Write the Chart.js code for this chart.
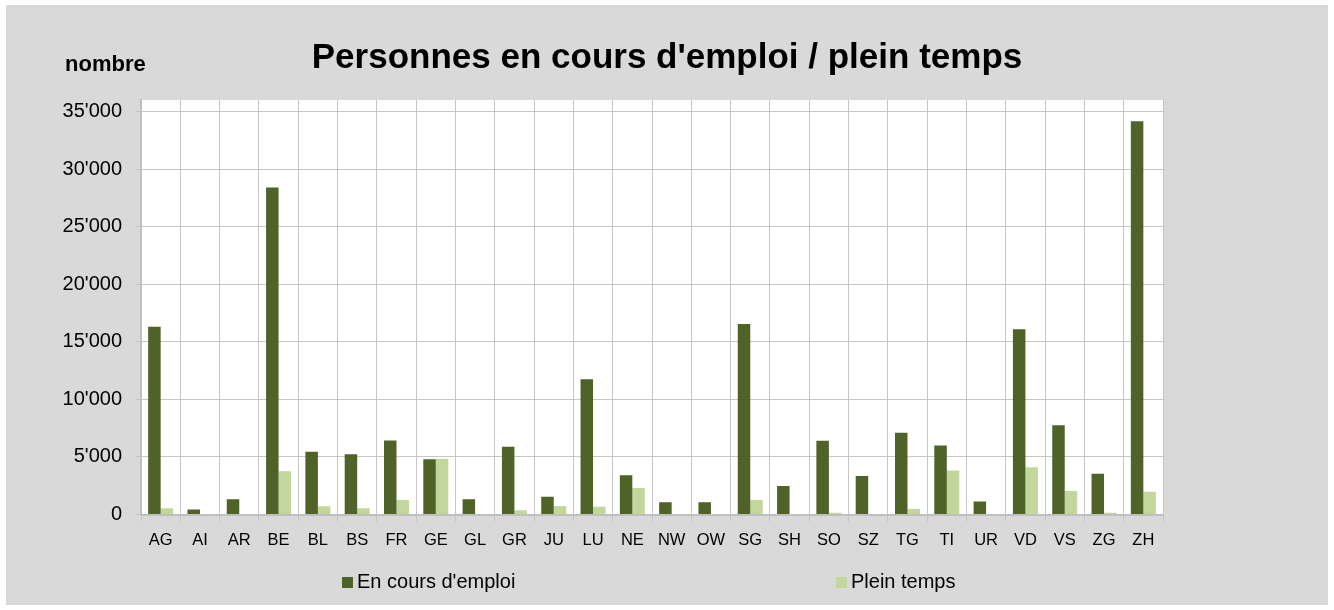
<!DOCTYPE html>
<html>
<head>
<meta charset="utf-8">
<script src="https://cdn.jsdelivr.net/npm/chart.js@4"></script>
<style>
    html, body { margin: 0; padding: 0; background: #fff; }
    #frame { position: absolute; left: 6px; top: 5px; width: 1322px; height: 600px; background: #d9d9d9; }
</style>
</head>
<body>
<div id="frame"><canvas id="chart" width="1322" height="600"></canvas></div>
<script>
const cantons = ['AG', 'AI', 'AR', 'BE', 'BL', 'BS', 'FR', 'GE', 'GL', 'GR', 'JU', 'LU', 'NE',
    'NW', 'OW', 'SG', 'SH', 'SO', 'SZ', 'TG', 'TI', 'UR', 'VD', 'VS', 'ZG', 'ZH'];
const enCoursEmploi = [16300, 430, 1320, 28400, 5450, 5230, 6430, 4800, 1320, 5890, 1550, 11750, 3400,
    1060, 1060, 16550, 2470, 6400, 3340, 7100, 6000, 1130, 16100, 7760, 3540, 34150];
const pleinTemps = [540, 0, 0, 3760, 710, 540, 1260, 4850, 0, 370, 740, 680, 2300,
    0, 0, 1260, 0, 160, 0, 470, 3830, 0, 4100, 2040, 150, 1980];
const yTicks = [0, 5000, 10000, 15000, 20000, 25000, 30000, 35000];
const yMax = 36000;

const FONT = "'Liberation Sans', Arial, sans-serif";
Chart.defaults.font.family = FONT;
Chart.defaults.color = '#000';

function fmt(v) {
    return String(v).replace(/\B(?=(\d{3})+(?!\d))/g, "'");
}

// white plot area, as in the Excel original
const plotBackground = {
    id: 'plotBackground',
    beforeDraw(chart) {
        const a = chart.chartArea;
        const ctx = chart.ctx;
        ctx.save();
        ctx.fillStyle = '#fff';
        ctx.fillRect(a.left, a.top, a.right - a.left, a.bottom - a.top);
        ctx.restore();
    }
};

// unit label + spread-out legend
const extras = {
    id: 'extras',
    afterDraw(chart) {
        const ctx = chart.ctx;
        const a = chart.chartArea;
        ctx.save();
        ctx.fillStyle = '#000';
        ctx.font = 'bold 22px ' + FONT;
        ctx.textBaseline = 'middle';
        ctx.fillText('nombre', 59, 60);

        const offsets = [201, 695];
        ctx.font = '20px ' + FONT;
        chart.data.datasets.forEach((ds, i) => {
            const x = a.left + offsets[i];
            const y = 577.5;
            ctx.fillStyle = ds.backgroundColor;
            ctx.fillRect(x, y - 5.5, 11, 11);
            ctx.fillStyle = '#000';
            ctx.fillText(ds.label, x + 15, y);
        });
        ctx.restore();
    }
};

new Chart(document.getElementById('chart'), {
    type: 'bar',
    data: {
        labels: cantons,
        datasets: [{
            label: "En cours d'emploi",
            data: enCoursEmploi,
            backgroundColor: '#4f6228',
            categoryPercentage: 0.636,
            barPercentage: 1.0
        }, {
            label: 'Plein temps',
            data: pleinTemps,
            backgroundColor: '#c3d69b',
            categoryPercentage: 0.636,
            barPercentage: 1.0
        }]
    },
    options: {
        responsive: false,
        animation: false,
        layout: { padding: 0 },
        plugins: {
            legend: { display: false },
            tooltip: { enabled: false },
            title: {
                display: true,
                text: "Personnes en cours d'emploi / plein temps",
                color: '#000',
                font: { size: 35, weight: 'bold' },
                padding: { top: 32, bottom: 21 }
            }
        },
        scales: {
            x: {
                grid: { offset: true, color: '#c6c6c6', lineWidth: 1, tickLength: 7 },
                border: { color: '#bfbfbf', width: 2 },
                ticks: { font: { size: 16.5 }, padding: 9, maxRotation: 0, autoSkip: false },
                afterFit: s => { s.height = 90.5; }
            },
            y: {
                min: 0,
                max: yMax,
                grid: { color: '#c6c6c6', lineWidth: 1, tickLength: 6 },
                border: { color: '#bfbfbf', width: 2 },
                ticks: {
                    padding: 13,
                    font: { size: 20 },
                    autoSkip: false,
                    callback: v => fmt(v)
                },
                afterBuildTicks: s => { s.ticks = yTicks.map(v => ({ value: v })); },
                afterFit: s => { s.width = 135; }
            },
            // empty right-hand axis, only reserves the grey margin right of the plot
            spacer: {
                position: 'right',
                grid: { display: false },
                border: { display: false },
                ticks: { display: false },
                afterFit: s => { s.width = 165; }
            }
        }
    },
    plugins: [plotBackground, extras]
});
</script>
</body>
</html>
